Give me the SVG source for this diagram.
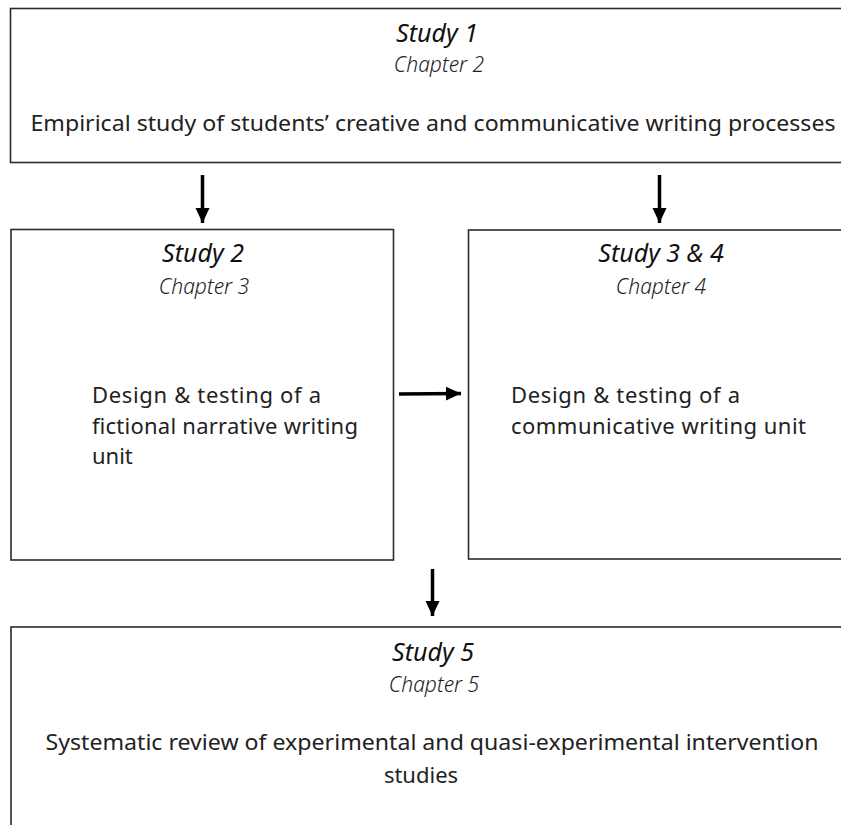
<svg xmlns="http://www.w3.org/2000/svg" width="841" height="825" viewBox="0 0 841 825">
  <style>
    .box { fill: #ffffff; stroke: #2b2b2b; stroke-width: 1.6; }
    .title { font-family: "Noto Sans", "Open Sans", sans-serif; font-style: italic; font-size: 25px; fill: #111; text-anchor: middle; }
    .chap { font-family: "Noto Sans", "Open Sans", sans-serif; font-style: italic; font-size: 21px; fill: #222; text-anchor: middle; font-weight: 300; }
    .body { font-family: "Noto Sans", "Open Sans", sans-serif; font-size: 22px; fill: #222; }
    .mid { text-anchor: middle; }
    .conn { stroke: #000; stroke-width: 3.5; fill: none; marker-end: url(#head); }
  </style>
  <defs>
    <marker id="head" markerUnits="userSpaceOnUse" markerWidth="16" markerHeight="16" viewBox="0 0 16 14" refX="15" refY="7" orient="auto">
      <path d="M0,0 L15,7 L0,14 Z" fill="#000"/>
    </marker>
  </defs>
  <rect width="841" height="825" fill="#ffffff"/>

  <g id="study1">
    <rect class="box" x="10.5" y="8.5" width="860" height="154"/>
    <text class="title" x="437" y="42">Study 1</text>
    <text class="chap" x="439" y="72">Chapter 2</text>
    <text class="body mid" x="433" y="131" textLength="805" lengthAdjust="spacingAndGlyphs">Empirical study of students’ creative and communicative writing processes</text>
  </g>

  <g id="study2">
    <rect class="box" x="11" y="229.5" width="382.5" height="330.5"/>
    <text class="title" x="203" y="262">Study 2</text>
    <text class="chap" x="204" y="294">Chapter 3</text>
    <text class="body" x="92" y="403" textLength="229">Design &amp; testing of a</text>
    <text class="body" x="92" y="434" textLength="266">fictional narrative writing</text>
    <text class="body" x="92" y="464">unit</text>
  </g>

  <g id="study34">
    <rect class="box" x="468.5" y="230" width="400" height="329"/>
    <text class="title" x="661" y="262">Study 3 &amp; 4</text>
    <text class="chap" x="661" y="294">Chapter 4</text>
    <text class="body" x="511" y="403" textLength="229">Design &amp; testing of a</text>
    <text class="body" x="511" y="434" textLength="295">communicative writing unit</text>
  </g>

  <g id="study5">
    <rect class="box" x="11" y="627" width="860" height="220"/>
    <text class="title" x="433" y="661">Study  5</text>
    <text class="chap" x="434" y="692">Chapter 5</text>
    <text class="body mid" x="432" y="750" textLength="773" lengthAdjust="spacingAndGlyphs">Systematic review of experimental and quasi-experimental intervention</text>
    <text class="body mid" x="421" y="783">studies</text>
  </g>

  <g id="connectors">
    <line class="conn" x1="202.5" y1="175" x2="202.5" y2="223"/>
    <line class="conn" x1="659.5" y1="175" x2="659.5" y2="223"/>
    <line class="conn" x1="399" y1="394" x2="461" y2="393.5"/>
    <line class="conn" x1="432.5" y1="569" x2="432.5" y2="616"/>
  </g>
</svg>
